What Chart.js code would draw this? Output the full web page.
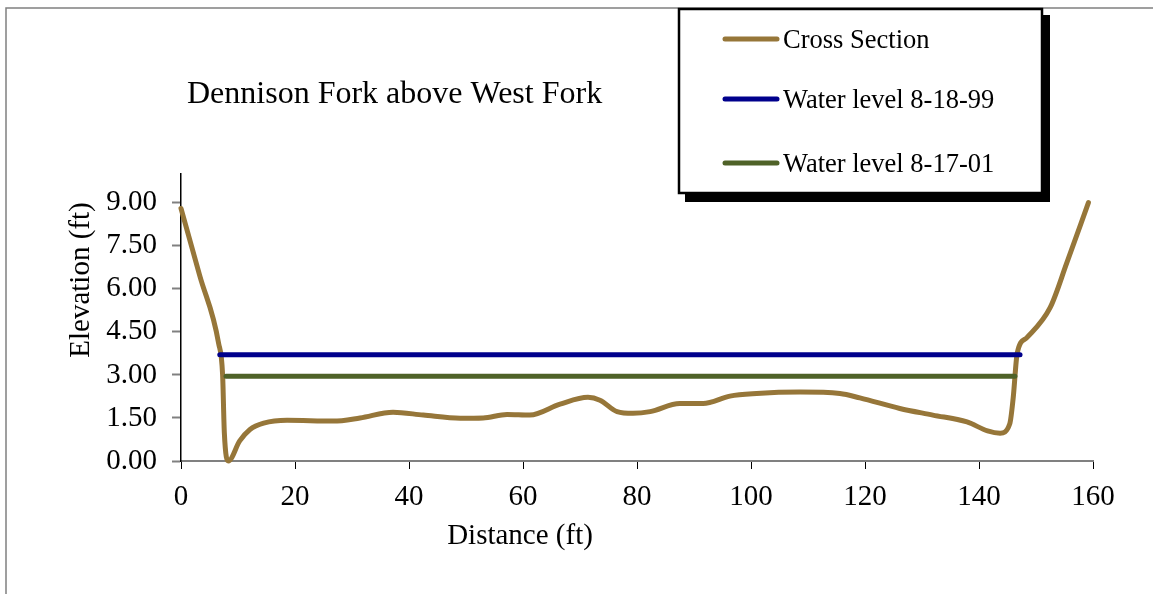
<!DOCTYPE html>
<html><head><meta charset="utf-8">
<script src="https://cdn.jsdelivr.net/npm/chart.js@4"></script>
<style>html,body{margin:0;padding:0;background:#fff}canvas{display:block}</style>
</head><body>
<canvas id="c" width="1153" height="594"></canvas>
<script>
// ---- data ----
const distance  = [0, 3.3, 6.6, 7.3, 7.6, 8.3, 10.3, 12.1, 14.5, 18.6, 26.7, 31.4, 37.2, 42.5, 49, 53, 57.2, 61.2, 66.5, 71.4, 73.5, 76.5, 79.3, 82.3, 87.5, 91.6, 96.3, 101, 108.6, 115.6, 119.1, 126.1, 131.9, 137.9, 141.5, 143.7, 145.4, 146, 146.7, 148.4, 152.5, 155.4, 159.2];
const elevation = [8.8, 6.45, 4.1, 3.0, 1.0, 0.0, 0.7, 1.1, 1.32, 1.42, 1.39, 1.5, 1.7, 1.6, 1.49, 1.5, 1.62, 1.6, 1.98, 2.22, 2.12, 1.72, 1.66, 1.72, 2.0, 2.0, 2.26, 2.35, 2.4, 2.35, 2.2, 1.83, 1.6, 1.36, 1.05, 0.97, 1.3, 2.2, 3.75, 4.3, 5.35, 6.9, 9.0];
const level1999Dist = [6.8, 147.2];
const level1999Elev = [3.70, 3.70];
const level2001Dist = [7.9, 146.3];
const level2001Elev = [2.95, 2.95];
const xTicks = [0, 20, 40, 60, 80, 100, 120, 140, 160];
const yTicks = [0, 1.5, 3, 4.5, 6, 7.5, 9];
const seriesNames = ['Cross Section', 'Water level 8-18-99', 'Water level 8-17-01'];
const chartTitle = 'Dennison Fork above West Fork';
const xTitle = 'Distance (ft)';
const yTitle = 'Elevation (ft)';

const SERIF = '"Liberation Serif", "Times New Roman", serif';
const colors = ['#967639', '#00008C', '#4F6228'];

function pts(xs, ys){ return xs.map((x, i) => ({x: x, y: ys[i]})); }

const extras = {
  id: 'extras',
  beforeDraw(chart){
    const ctx = chart.ctx;
    ctx.save();
    ctx.fillStyle = '#fff';
    ctx.fillRect(0, 0, chart.width, chart.height);
    ctx.strokeStyle = '#808080';
    ctx.lineWidth = 1.5;
    ctx.beginPath();
    ctx.moveTo(6, 594); ctx.lineTo(6, 8); ctx.lineTo(1153, 8);
    ctx.stroke();
    ctx.restore();
  },
  afterDraw(chart){
    const ctx = chart.ctx;
    ctx.save();
    ctx.fillStyle = '#000';
    // title
    ctx.font = '32px ' + SERIF;
    ctx.textAlign = 'left';
    ctx.textBaseline = 'alphabetic';
    ctx.fillText(chartTitle, 187, 103);
    // x title
    ctx.font = '29px ' + SERIF;
    ctx.textAlign = 'center';
    ctx.fillText(xTitle, 520, 544);
    // y title
    ctx.save();
    ctx.translate(89, 280);
    ctx.rotate(-Math.PI / 2);
    ctx.fillText(yTitle, 0, 0);
    ctx.restore();
    // legend
    ctx.fillStyle = '#000';
    ctx.fillRect(685, 15, 365, 187);
    ctx.fillStyle = '#fff';
    ctx.fillRect(678, 8, 365, 186);
    ctx.strokeStyle = '#000';
    ctx.lineWidth = 2.5;
    ctx.strokeRect(679, 9, 363, 184);
    const ys = [39, 99, 163];
    chart.data.datasets.forEach((ds, i) => {
      ctx.strokeStyle = ds.borderColor;
      ctx.lineWidth = 5;
      ctx.lineCap = 'round';
      ctx.beginPath();
      ctx.moveTo(725, ys[i]); ctx.lineTo(777, ys[i]);
      ctx.stroke();
      ctx.fillStyle = '#000';
      ctx.font = '26.5px ' + SERIF;
      ctx.textAlign = 'left';
      ctx.fillText(ds.label, 783, ys[i] + 9);
    });
    ctx.restore();
  }
};

new Chart(document.getElementById('c'), {
  type: 'scatter',
  data: {
    datasets: [
      {label: seriesNames[0], data: pts(distance, elevation), borderColor: colors[0], backgroundColor: colors[0],
       borderWidth: 5, showLine: true, pointRadius: 0, cubicInterpolationMode: 'monotone',
       borderCapStyle: 'round', borderJoinStyle: 'round', clip: false, order: 3},
      {label: seriesNames[1], data: pts(level1999Dist, level1999Elev), borderColor: colors[1], backgroundColor: colors[1],
       borderWidth: 5, showLine: true, pointRadius: 0, borderCapStyle: 'round', clip: false, order: 2},
      {label: seriesNames[2], data: pts(level2001Dist, level2001Elev), borderColor: colors[2], backgroundColor: colors[2],
       borderWidth: 5, showLine: true, pointRadius: 0, borderCapStyle: 'round', clip: false, order: 1}
    ]
  },
  options: {
    responsive: false,
    animation: false,
    devicePixelRatio: 1,
    layout: {padding: {left: 0, right: 60, top: 174, bottom: 0}},
    plugins: {legend: {display: false}, title: {display: false}, tooltip: {enabled: false}},
    scales: {
      x: {
        type: 'linear', min: 0, max: 160,
        afterFit(s){ s.height = 133; },
        afterBuildTicks(s){ s.ticks = xTicks.map(v => ({value: v})); },
        ticks: {font: {family: SERIF, size: 29}, color: '#000', padding: 11, maxRotation: 0, autoSkip: false},
        grid: {drawOnChartArea: false, drawTicks: true, tickLength: 8, tickColor: '#000', tickWidth: 1},
        border: {color: '#808080', width: 2}
      },
      y: {
        type: 'linear', min: 0, max: 10,
        afterFit(s){ s.width = 181; },
        afterBuildTicks(s){ s.ticks = yTicks.map(v => ({value: v})); },
        ticks: {font: {family: SERIF, size: 29}, color: '#000', padding: 15, autoSkip: false,
                callback: v => Number(v).toFixed(2)},
        grid: {drawOnChartArea: false, drawTicks: true, tickLength: 9, tickColor: '#808080', tickWidth: 2},
        border: {color: '#000', width: 1.5}
      }
    }
  },
  plugins: [extras]
});
</script>
</body></html>
